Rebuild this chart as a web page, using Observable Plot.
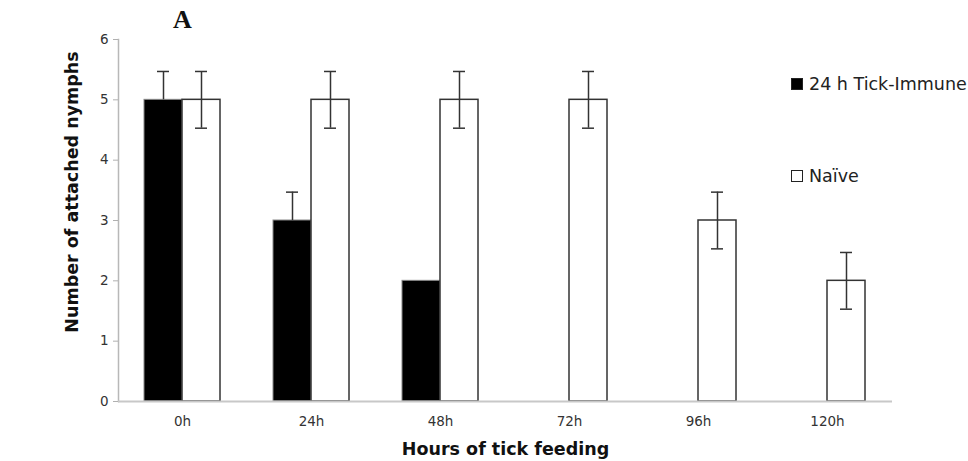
<!DOCTYPE html>
<html>
<head>
<meta charset="utf-8">
<script src="https://cdn.jsdelivr.net/npm/d3@7"></script>
<script src="https://cdn.jsdelivr.net/npm/@observablehq/plot@0.6"></script>
<style>
  html, body { margin: 0; padding: 0; background: #fff; }
  #wrap { position: relative; width: 968px; height: 461px; font-family: "DejaVu Sans", Verdana, sans-serif; overflow: hidden; }
  #title { position: absolute; left: 173px; top: 5px; font-family: "Liberation Serif", "DejaVu Serif", serif; font-weight: bold; font-size: 26px; color: #111; }
  #ylab { position: absolute; left: 72px; top: 192px; transform: translate(-50%, -50%) rotate(-90deg); font-weight: bold; font-size: 17.5px; color: #111; white-space: nowrap; }
  .leg { position: absolute; left: 791px; display: flex; align-items: center; font-size: 17.5px; color: #222; white-space: nowrap; }
  .sw { width: 12px; height: 12px; margin-right: 6px; box-sizing: border-box; border: 1.5px solid #222; }
</style>
</head>
<body>
<div id="wrap">
  <div id="chart"></div>
  <div id="title">A</div>
  <div id="ylab">Number of attached nymphs</div>
  <div class="leg" style="top:74px"><div class="sw" style="background:#000"></div><span>24 h Tick-Immune</span></div>
  <div class="leg" style="top:166px"><div class="sw" style="background:#fff"></div><span>Naïve</span></div>
</div>
<script>
const times = ["0h", "24h", "48h", "72h", "96h", "120h"];
const immune = [5, 3, 2, 0, 0, 0];
const naive = [5, 5, 5, 5, 3, 2];
const immuneErr = [0.47, 0.47, 0, 0, 0, 0];
const naiveErr = [0.47, 0.47, 0.47, 0.47, 0.47, 0.47];
const yTicks = [0, 1, 2, 3, 4, 5, 6];

const rows = [];
times.forEach((t, i) => {
  rows.push({time: t, group: "24 h Tick-Immune", value: immune[i], err: immuneErr[i], off: -19});
  rows.push({time: t, group: "Naïve", value: naive[i], err: naiveErr[i], off: 19});
});
const imm = rows.filter(d => d.off < 0);
const nai = rows.filter(d => d.off > 0);
const immE = imm.filter(d => d.err > 0);
const naiE = nai.filter(d => d.err > 0);

const chart = Plot.plot({
  width: 968,
  height: 461,
  marginLeft: 118,
  marginRight: 76,
  marginTop: 39,
  marginBottom: 60,
  style: {fontFamily: "DejaVu Sans, Verdana, sans-serif", fontSize: "13px", color: "#333", background: "#fff"},
  x: {domain: times, paddingInner: 0.705, paddingOuter: 0.3525, align: 0.5},
  y: {domain: [0, 6]},
  marks: [
    Plot.frame({anchor: "left", stroke: "#b8b8b8", strokeWidth: 1.5}),
    Plot.axisY({ticks: yTicks, tickSize: 5, tickPadding: 5, stroke: "#b0b0b0", fontSize: 13.5, fill: "#333", label: null, tickFormat: d => String(d)}),
    Plot.axisX({tickSize: 0, tickPadding: 15, fontSize: 13.5, fill: "#333", label: null}),
    Plot.barY(imm, {x: "time", y: "value", dx: -19, fill: "#000", stroke: "#888", strokeWidth: 1}),
    Plot.barY(nai, {x: "time", y: "value", dx: 19, fill: "#fff", stroke: "#333", strokeWidth: 1.5}),
    Plot.ruleY([0], {stroke: "#c8c8c8", strokeWidth: 2}),
    Plot.ruleX(immE, {x: "time", y1: "value", y2: d => d.value + d.err, dx: -19, stroke: "#333", strokeWidth: 1.5}),
    Plot.tickY(immE, {x: "time", y: d => d.value + d.err, dx: -19, inset: 13, stroke: "#333", strokeWidth: 1.5}),
    Plot.ruleX(naiE, {x: "time", y1: d => d.value - d.err, y2: d => d.value + d.err, dx: 19, stroke: "#333", strokeWidth: 1.5}),
    Plot.tickY(naiE, {x: "time", y: d => d.value + d.err, dx: 19, inset: 13, stroke: "#333", strokeWidth: 1.5}),
    Plot.tickY(naiE, {x: "time", y: d => d.value - d.err, dx: 19, inset: 13, stroke: "#333", strokeWidth: 1.5}),
    Plot.text(["Hours of tick feeding"], {frameAnchor: "bottom", lineAnchor: "middle", dy: 48, fontWeight: "bold", fontSize: 17.5, fill: "#111"})
  ]
});
document.getElementById("chart").appendChild(chart);
</script>
</body>
</html>
